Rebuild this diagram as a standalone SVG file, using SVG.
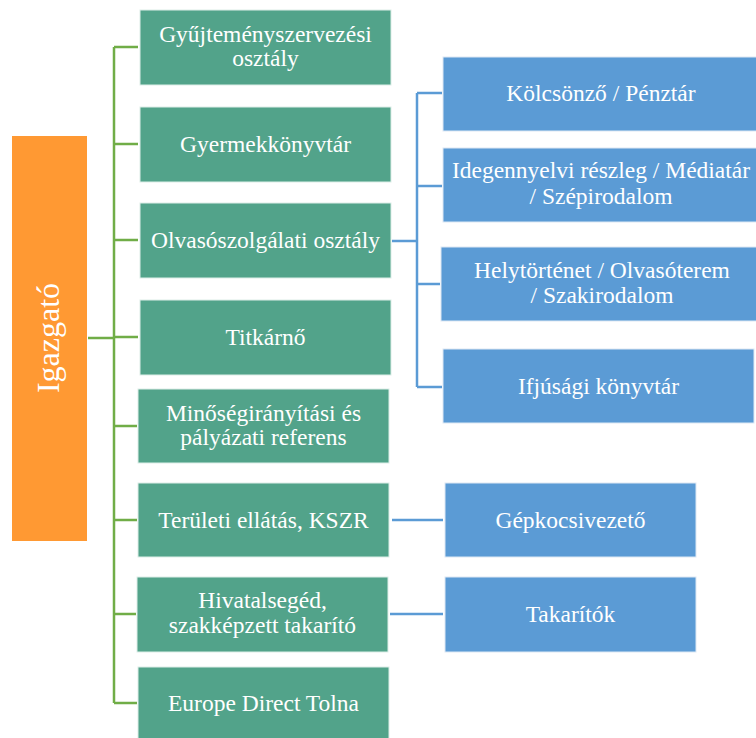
<svg xmlns="http://www.w3.org/2000/svg" width="756" height="738" viewBox="0 0 756 738">
<style>
.g{fill:#52A38A;stroke:#DDEEE8;stroke-width:1}
.b{fill:#5B9BD5;stroke:#DDE8F4;stroke-width:1}
.o{fill:#FF9933}
text{font-family:'Liberation Serif','DejaVu Serif',serif;font-size:23.5px;fill:#FFFFFF;text-anchor:middle}
text.big{font-size:32px}
.gl{stroke:#70AD47;stroke-width:2.5;fill:none}
.bl{stroke:#5B9BD5;stroke-width:2.5;fill:none}
</style>
<rect width="756" height="738" fill="#FFFFFF"/>
<g id="connectors">
<path class="gl" d="M88,338H114M114,47V703M114,47H138M114,144H138M114,240H138M114,337H138M114,426H137M114,520H137M114,614H136M114,703H137"/>
<path class="bl" d="M392,241H417M417,93V387M417,93H442M417,186H442M417,284H440M417,387H442M392,520H443M390,614H443"/>
</g>
<g id="igazgato"><rect class="o" x="12" y="136" width="75" height="405"/><text class="big" transform="translate(59,338) rotate(-90)">Igazgató</text></g>
<g id="n1"><rect class="g" x="140" y="10" width="251" height="75"/><text x="265.5" y="42">Gyűjteményszervezési</text><text x="265.5" y="66">osztály</text></g>
<g id="n2"><rect class="g" x="140" y="107" width="251" height="75"/><text x="265.5" y="152">Gyermekkönyvtár</text></g>
<g id="n3"><rect class="g" x="140" y="203" width="251" height="75"/><text x="265.5" y="248">Olvasószolgálati osztály</text></g>
<g id="n4"><rect class="g" x="140" y="300" width="251" height="75"/><text x="265.5" y="345">Titkárnő</text></g>
<g id="n5"><rect class="g" x="138" y="389" width="251" height="74"/><text x="263.5" y="421">Minőségirányítási és</text><text x="263.5" y="445">pályázati referens</text></g>
<g id="n6"><rect class="g" x="138" y="483" width="251" height="74"/><text x="263.5" y="528">Területi ellátás, KSZR</text></g>
<g id="n7"><rect class="g" x="137" y="577" width="251" height="75"/><text x="262.5" y="608">Hivatalsegéd,</text><text x="262.5" y="633">szakképzett takarító</text></g>
<g id="n8"><rect class="g" x="138" y="667" width="251" height="75"/><text x="263.5" y="711">Europe Direct Tolna</text></g>
<g id="b1"><rect class="b" x="443" y="57" width="316" height="74"/><text x="601" y="101">Kölcsönző / Pénztár</text></g>
<g id="b2"><rect class="b" x="443" y="148" width="316" height="74"/><text x="601" y="178">Idegennyelvi részleg / Médiatár</text><text x="601" y="204">/ Szépirodalom</text></g>
<g id="b3"><rect class="b" x="441" y="247" width="318" height="74"/><text x="602" y="278">Helytörténet / Olvasóterem</text><text x="602" y="303">/ Szakirodalom</text></g>
<g id="b4"><rect class="b" x="443" y="349" width="311" height="74"/><text x="598.5" y="394">Ifjúsági könyvtár</text></g>
<g id="b5"><rect class="b" x="445" y="483" width="251" height="74"/><text x="570.5" y="528">Gépkocsivezető</text></g>
<g id="b6"><rect class="b" x="445" y="577" width="251" height="75"/><text x="570.5" y="622">Takarítók</text></g>
</svg>
